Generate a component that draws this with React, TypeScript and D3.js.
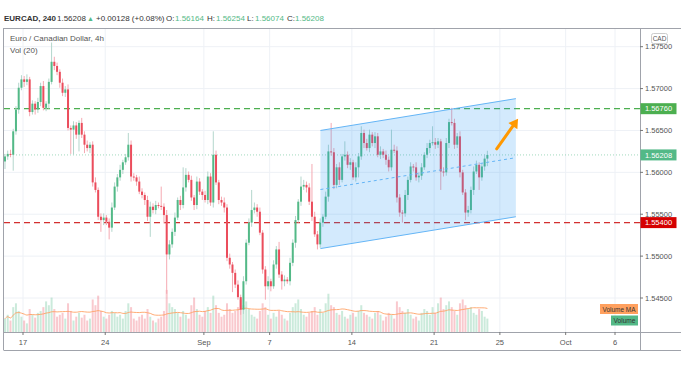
import React from "react";
import * as d3 from "d3";

// EURCAD 4h candles, open of each = previous close
const firstOpen = 1.5613;
const closes = [
  1.5619, 1.5622, 1.5621, 1.5649, 1.5675, 1.5701, 1.5711, 1.5708, 1.5711, 1.5672,
  1.5682, 1.5675, 1.5684, 1.5703, 1.5677, 1.5682, 1.5708, 1.5732, 1.5727, 1.5720,
  1.5707, 1.5695, 1.5699, 1.5653, 1.5651, 1.5656, 1.5645, 1.5659, 1.5645, 1.5633,
  1.5629, 1.5633, 1.5588, 1.5579, 1.5547, 1.5543, 1.5546, 1.5541, 1.5534, 1.5558,
  1.5583, 1.5594, 1.5603, 1.5612, 1.5618, 1.5633, 1.5595, 1.5594, 1.5589, 1.5577,
  1.5573, 1.5567, 1.5547, 1.5559, 1.5555, 1.5561, 1.5560, 1.5559, 1.5549, 1.5502,
  1.5514, 1.5529, 1.5546, 1.5567, 1.5561, 1.5582, 1.5597, 1.5591, 1.5570, 1.5561,
  1.5589, 1.5577, 1.5573, 1.5567, 1.5595, 1.5564, 1.5621, 1.5588, 1.5567, 1.5564,
  1.5558, 1.5498, 1.5490, 1.5480, 1.5466, 1.5451, 1.5436, 1.5470, 1.5516, 1.5540,
  1.5555, 1.5558, 1.5553, 1.5528, 1.5484, 1.5464, 1.5470, 1.5464, 1.5490, 1.5508,
  1.5478, 1.5470, 1.5472, 1.5470, 1.5492, 1.5516, 1.5543, 1.5565, 1.5583, 1.5585,
  1.5582, 1.5565, 1.5547, 1.5526, 1.5514, 1.5540, 1.5547, 1.5571, 1.5625, 1.5624,
  1.5585, 1.5606, 1.5591, 1.5619, 1.5621, 1.5609, 1.5612, 1.5594, 1.5606, 1.5619,
  1.5647, 1.5635, 1.5629, 1.5645, 1.5635, 1.5643, 1.5621, 1.5625, 1.5621, 1.5615,
  1.5606, 1.5627, 1.5626, 1.5570, 1.5552, 1.5551, 1.5573, 1.5591, 1.5607, 1.5606,
  1.5594, 1.5596, 1.5606, 1.5621, 1.5629, 1.5635, 1.5636, 1.5633, 1.5637, 1.5601,
  1.5600, 1.5635, 1.5660, 1.5659, 1.5633, 1.5643, 1.5600, 1.5576, 1.5552, 1.5555,
  1.5579, 1.5601, 1.5609, 1.5594, 1.5607, 1.56164, 1.56208,
];
// wicks in pips above / below the body
const upperWick = [
  3, 4, 5, 3, 4, 6, 5, 4, 6, 3, 4, 3, 5, 4, 6, 3, 4, 23, 6, 4,
  3, 5, 4, 6, 3, 5, 4, 3, 6, 4, 5, 3, 4, 6, 3, 4, 5, 3, 4, 6,
  5, 4, 6, 3, 4, 14, 5, 4, 3, 6, 4, 3, 5, 6, 4, 5, 3, 23, 4, 6,
  5, 4, 6, 3, 5, 24, 8, 4, 5, 3, 6, 4, 3, 5, 6, 4, 28, 5, 3, 4,
  6, 4, 5, 3, 4, 5, 3, 6, 4, 5, 24, 6, 4, 5, 3, 4, 6, 3, 5, 4,
  9, 4, 5, 3, 6, 4, 5, 3, 12, 6, 4, 5, 45, 6, 4, 5, 3, 6, 8, 34,
  5, 4, 6, 3, 16, 4, 5, 3, 6, 4, 8, 4, 5, 6, 3, 5, 4, 6, 3, 5,
  4, 24, 6, 5, 4, 3, 6, 4, 5, 3, 6, 4, 5, 3, 6, 4, 19, 5, 4, 3,
  5, 6, 4, 17, 5, 4, 6, 3, 4, 5, 4, 6, 5, 3, 4, 5, 5,
];
const lowerWick = [
  9, 4, 3, 19, 4, 5, 3, 6, 4, 5, 3, 6, 4, 5, 3, 4, 6, 3, 5, 4,
  6, 4, 5, 3, 29, 30, 5, 20, 4, 10, 4, 6, 5, 3, 4, 14, 6, 4, 14, 5,
  3, 6, 4, 5, 3, 4, 6, 4, 5, 3, 4, 6, 5, 24, 4, 5, 3, 4, 10, 47,
  6, 4, 5, 3, 6, 4, 5, 3, 4, 6, 5, 4, 6, 3, 5, 4, 6, 3, 5, 4,
  6, 4, 5, 23, 4, 3, 6, 5, 4, 3, 5, 4, 6, 3, 5, 16, 4, 6, 3, 5,
  4, 10, 6, 3, 5, 4, 6, 3, 5, 4, 6, 4, 5, 3, 6, 4, 5, 3, 6, 4,
  5, 4, 6, 3, 5, 4, 6, 3, 5, 12, 4, 6, 3, 5, 4, 6, 3, 5, 4, 6,
  5, 4, 3, 6, 5, 11, 4, 6, 3, 5, 4, 6, 5, 3, 4, 6, 3, 5, 4, 22,
  5, 4, 6, 3, 5, 4, 6, 3, 9, 5, 4, 6, 3, 15, 4, 5, 9,
];
const volumes = [
  14, 18, 12, 26, 30, 22, 16, 12, 9, 24, 18, 15, 20, 22, 26, 32, 28, 36, 24, 16,
  18, 20, 14, 30, 22, 12, 16, 20, 15, 18, 12, 14, 34, 28, 38, 22, 16, 14, 18, 22,
  20, 16, 18, 14, 22, 30, 26, 14, 12, 16, 18, 14, 24, 16, 12, 10, 14, 16, 22, 44,
  30, 26, 24, 20, 16, 22, 18, 14, 28, 36, 24, 18, 16, 22, 26, 20, 38, 28, 20, 16,
  18, 30, 24, 20, 22, 26, 34, 28, 32, 24, 18, 16, 14, 22, 30, 26, 18, 14, 20, 16,
  22, 18, 14, 12, 20, 26, 30, 34, 24, 18, 16, 20, 22, 26, 18, 24, 20, 30, 40, 28,
  26, 20, 18, 22, 16, 14, 18, 20, 16, 22, 28, 20, 18, 16, 14, 20, 22, 18, 12, 16,
  20, 18, 14, 32, 26, 22, 20, 24, 18, 14, 16, 12, 20, 24, 22, 18, 26, 20, 30, 36,
  24, 28, 32, 26, 22, 18, 30, 34, 28, 24, 26, 20, 18, 24, 22, 16, 14,
];

const priceTicks = [1.545, 1.55, 1.555, 1.56, 1.565, 1.57, 1.575];
// trading days counted from Aug 17
const dateTicks = [
  { label: "17", day: 0 }, { label: "24", day: 5 }, { label: "Sep", day: 11 },
  { label: "7", day: 15 }, { label: "14", day: 20 }, { label: "21", day: 25 },
  { label: "25", day: 29 }, { label: "Oct", day: 33 }, { label: "6", day: 36 },
];
const firstCandle = -6.57; // candles before Aug 17 00:00
const resistance = 1.5676;
const support = 1.554;
const lastPrice = 1.56208;
const channelIdx = [115.1, 186.4];
const channelTop = [1.565, 1.5688];
const channelBottom = [1.5509, 1.5547];
const arrowFrom = { i: 179.4, p: 1.5628 };
const arrowTo = { i: 187.2, p: 1.5664 };

const UP = "#53b987";
const DOWN = "#eb4d5c";
const FONT = "'Liberation Sans', Arial, sans-serif";

export default function App() {
  const left = 4, right = 640, top = 28, bottom = 332, axisBottom = 350;
  const x = d3.scaleLinear().domain([0, 36]).range([23, 615]);
  const cx = (i: number) => x((i + firstCandle) / 6);
  const y = d3.scaleLinear().domain([1.545, 1.575]).range([298, 46.7]);
  const vy = d3.scaleLinear().domain([0, 46]).range([bottom, 288]);

  const candles = closes.map((c, i) => {
    const o = i === 0 ? firstOpen : closes[i - 1];
    return {
      i, o, c,
      hi: Math.max(o, c) + upperWick[i] * 0.0001,
      lo: Math.min(o, c) - lowerWick[i] * 0.0001,
      v: volumes[i],
      up: c >= o,
    };
  });
  const volMA = volumes.map((_, i) => d3.mean(volumes.slice(Math.max(0, i - 19), i + 1)) as number);
  const maLine = d3.line<number>().x((_, i) => cx(i)).y((d) => vy(d)).curve(d3.curveMonotoneX)(volMA) || "";

  const chTL = [cx(channelIdx[0]), y(channelTop[0])];
  const chTR = [cx(channelIdx[1]), y(channelTop[1])];
  const chBR = [cx(channelIdx[1]), y(channelBottom[1])];
  const chBL = [cx(channelIdx[0]), y(channelBottom[0])];
  const midL = y((channelTop[0] + channelBottom[0]) / 2);
  const midR = y((channelTop[1] + channelBottom[1]) / 2);

  const ax0 = cx(arrowFrom.i), ay0 = y(arrowFrom.p);
  const ax1 = cx(arrowTo.i), ay1 = y(arrowTo.p);
  const ang = Math.atan2(ay1 - ay0, ax1 - ax0);
  const hl = 9, hw = 5.5;
  const bx = ax1 - hl * Math.cos(ang), by = ay1 - hl * Math.sin(ang);
  const head = [
    [ax1, ay1],
    [bx + hw * Math.sin(ang), by - hw * Math.cos(ang)],
    [bx - hw * Math.sin(ang), by + hw * Math.cos(ang)],
  ];

  const tag = (p: number, label: string, bg: string) => (
    <g key={label}>
      <rect x={right + 0.5} y={y(p) - 5.5} width={36} height={11} fill={bg} />
      <text x={right + 18.5} y={y(p) + 2.7} textAnchor="middle" fontSize={7.5} fill="#fff">{label}</text>
    </g>
  );

  const hdr = { fontSize: 8, fill: "#333" };
  const teal = { fontSize: 8, fill: "#53b987" };

  return (
    <svg width={681} height={373} style={{ position: "absolute", left: 0, top: 0, background: "#fff" }} fontFamily={FONT}>
      <defs>
        <clipPath id="plot"><rect x={left} y={top} width={right - left} height={bottom - top} /></clipPath>
      </defs>
      {/* header */}
      <text x={4} y={21} {...hdr} fontWeight="bold">EURCAD, 240</text>
      <text x={57} y={21} {...hdr}>1.56208</text>
      <text x={87} y={21} fontSize={7} fill={UP}>▲</text>
      <text x={96} y={21} {...hdr}>+0.00128 (+0.08%)</text>
      <text x={166} y={21} {...hdr}>O:</text><text x={175} y={21} {...teal}>1.56164</text>
      <text x={207} y={21} {...hdr}>H:</text><text x={216} y={21} {...teal}>1.56254</text>
      <text x={247} y={21} {...hdr}>L:</text><text x={255} y={21} {...teal}>1.56074</text>
      <text x={287} y={21} {...hdr}>C:</text><text x={295} y={21} {...teal}>1.56208</text>

      {/* grid */}
      {priceTicks.map((p) => (
        <line key={p} x1={left} x2={right} y1={y(p)} y2={y(p)} stroke="#eef1f6" />
      ))}
      {dateTicks.map((d) => (
        <line key={d.label} x1={x(d.day)} x2={x(d.day)} y1={top} y2={bottom} stroke="#eef1f6" />
      ))}

      <g clipPath="url(#plot)">
        {/* volume */}
        {candles.map((d) => (
          <rect key={"v" + d.i} x={cx(d.i) - 1} y={vy(d.v)} width={2} height={bottom - vy(d.v)}
            fill={d.up ? "rgba(83,185,135,0.3)" : "rgba(235,77,92,0.3)"} />
        ))}
        <path d={maLine} fill="none" stroke="#ff9e5e" strokeWidth={1} opacity={0.85} />

        {/* levels */}
        <line x1={left} x2={right} y1={y(resistance)} y2={y(resistance)} stroke="#4caf50" strokeWidth={1.3} strokeDasharray="6,4" />
        <line x1={left} x2={right} y1={y(support)} y2={y(support)} stroke="#d32f2f" strokeWidth={1.3} strokeDasharray="6,4" />
        <line x1={left} x2={right} y1={y(lastPrice)} y2={y(lastPrice)} stroke="#53b987" strokeOpacity={0.55} strokeDasharray="1,2" />

        {/* candles */}
        {candles.map((d) => {
          const X = cx(d.i);
          const yt = y(Math.max(d.o, d.c));
          const h = Math.max(1, y(Math.min(d.o, d.c)) - yt);
          return (
            <g key={"c" + d.i}>
              <line x1={X} x2={X} y1={y(d.hi)} y2={y(d.lo)} stroke={d.up ? "#b3d6cc" : "#f5a9b2"} strokeWidth={1} />
              <rect x={X - 1} y={yt} width={2} height={h} fill={d.up ? UP : DOWN} />
            </g>
          );
        })}

        {/* channel */}
        <polygon points={[chTL, chTR, chBR, chBL].map((p) => p.join(",")).join(" ")} fill="rgba(33,150,243,0.2)" />
        <line x1={chTL[0]} y1={chTL[1]} x2={chTR[0]} y2={chTR[1]} stroke="#64b5f6" strokeWidth={1} />
        <line x1={chBL[0]} y1={chBL[1]} x2={chBR[0]} y2={chBR[1]} stroke="#64b5f6" strokeWidth={1} />
        <line x1={chTL[0]} y1={midL} x2={chTR[0]} y2={midR} stroke="#64b5f6" strokeWidth={1} strokeDasharray="3,3" />

        {/* arrow */}
        <line x1={ax0} y1={ay0} x2={bx} y2={by} stroke="#ff9800" strokeWidth={3} strokeLinecap="round" />
        <polygon points={head.map((p) => p.join(",")).join(" ")} fill="#ff9800" />
      </g>

      <text x={10} y={41} fontSize={8} fill="#555">Euro / Canadian Dollar, 4h</text>
      <text x={10} y={53} fontSize={8} fill="#555">Vol (20)</text>

      {/* frame */}
      <line x1={3.5} x2={3.5} y1={top} y2={axisBottom} stroke="#a0a3ab" />
      <line x1={3.5} x2={681} y1={top + 0.5} y2={top + 0.5} stroke="#a0a3ab" />
      <line x1={right + 0.5} x2={right + 0.5} y1={top} y2={axisBottom} stroke="#a0a3ab" />
      <line x1={3.5} x2={681} y1={bottom + 0.5} y2={bottom + 0.5} stroke="#a0a3ab" />
      <line x1={3.5} x2={681} y1={axisBottom + 0.5} y2={axisBottom + 0.5} stroke="#a0a3ab" />

      {/* price axis */}
      {priceTicks.map((p) => (
        <g key={"t" + p}>
          <line x1={right} x2={right + 3} y1={y(p)} y2={y(p)} stroke="#777" />
          <text x={645} y={y(p) + 2.6} fontSize={7.5} fill="#555">{p.toFixed(5)}</text>
        </g>
      ))}
      <rect x={651.5} y={33.5} width={16} height={10} rx={2} fill="#fff" stroke="#ccc" />
      <text x={659.5} y={40.8} textAnchor="middle" fontSize={6.5} fill="#555">CAD</text>
      {tag(resistance, "1.56760", "#4caf50")}
      {tag(lastPrice, "1.56208", "#53b987")}
      {tag(support, "1.55400", "#d50000")}

      {/* volume labels */}
      <rect x={600} y={304} width={38} height={10} fill="#ffa05e" />
      <text x={602.5} y={311.5} fontSize={6.3} fill="#333" textLength={33} lengthAdjust="spacingAndGlyphs">Volume MA</text>
      <rect x={611} y={315.5} width={27} height={10} fill="#53b987" />
      <text x={613.5} y={323} fontSize={6.3} fill="#333" textLength={22} lengthAdjust="spacingAndGlyphs">Volume</text>

      {/* time axis */}
      {dateTicks.map((d) => (
        <g key={"d" + d.label}>
          <line x1={x(d.day)} x2={x(d.day)} y1={bottom} y2={bottom + 3} stroke="#777" />
          <text x={x(d.day)} y={345} textAnchor="middle" fontSize={7.5} fill="#555">{d.label}</text>
        </g>
      ))}
    </svg>
  );
}
